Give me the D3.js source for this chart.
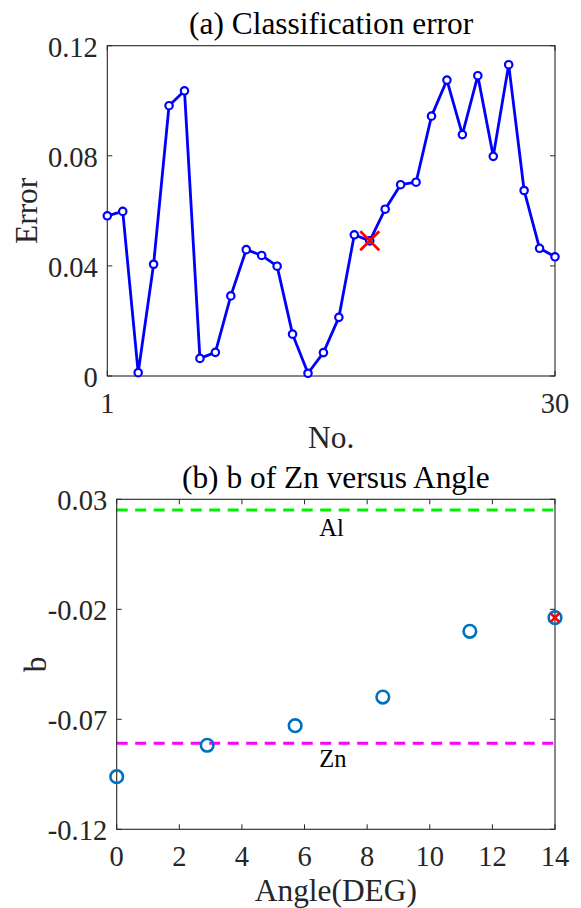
<!DOCTYPE html>
<html><head><meta charset="utf-8">
<script src="https://cdn.jsdelivr.net/npm/d3@7"></script>
<style>html,body{margin:0;padding:0;background:#fff;} svg{display:block;font-family:"Liberation Serif","Times New Roman",serif;}</style>
</head><body>
<svg id="c" width="581" height="908"></svg>
<script>
// ---- data: (a) classification error ----
const runNo = [1,2,3,4,5,6,7,8,9,10,11,12,13,14,15,16,17,18,19,20,21,22,23,24,25,26,27,28,29,30];
const errorVals = [0.0582,0.0598,0.0012,0.0406,0.0982,0.1036,0.0064,0.0086,0.0291,0.0459,
                   0.0438,0.0399,0.0152,0.0010,0.0085,0.0213,0.0513,0.0491,0.0606,0.0695,
                   0.0704,0.0944,0.1075,0.0877,0.1091,0.0798,0.1131,0.0674,0.0464,0.0433];
const bestRun = 18;
const errYTicks = [0, 0.04, 0.08, 0.12];
const errYTickLabels = ["0", "0.04", "0.08", "0.12"];
const errXTicks = [1, 30];
// ---- data: (b) b of Zn versus angle ----
const angles = [0, 2.89, 5.70, 8.50, 11.28, 14.0];
const bVals = [-0.0961, -0.0818, -0.0729, -0.0599, -0.0300, -0.0238];
const bestAngleIdx = 5;
const refNames = ["Al", "Zn"];
const refVals = [0.0251, -0.0809];
const refLabelPos = [[6.47, 0.0133], [6.47, -0.0915]];
const bYTicks = [0.03, -0.02, -0.07, -0.12];
const bYTickLabels = ["0.03", "-0.02", "-0.07", "-0.12"];
const bXTicks = [0, 2, 4, 6, 8, 10, 12, 14];

const svg = d3.select("#c");
const AX = "#262626", TICK = 28.5, LAB = 31.4, TL = 5;

function frame(g, x, y, xt, xtl, yt, ytl, title, xlabel, ylabel) {
  const [x0, x1] = x.range(), [y0, y1] = y.range(); // y0 bottom, y1 top
  // ticks inward on all four sides
  g.selectAll(".tx").data(xt).enter().append("path")
    .attr("d", d => `M${x(d)},${y0}v${-TL}M${x(d)},${y1}v${TL}`)
    .attr("stroke", AX).attr("stroke-width", 1);
  g.selectAll(".ty").data(yt).enter().append("path")
    .attr("d", d => `M${x0},${y(d)}h${TL}M${x1},${y(d)}h${-TL}`)
    .attr("stroke", AX).attr("stroke-width", 1);
  g.append("rect").attr("x", x0).attr("y", y1).attr("width", x1 - x0).attr("height", y0 - y1)
    .attr("fill", "none").attr("stroke", AX).attr("stroke-width", 1.1);
  g.selectAll(".xl").data(xt).enter().append("text")
    .attr("x", d => x(d)).attr("y", y0 + 37).attr("text-anchor", "middle")
    .attr("font-size", TICK).attr("fill", AX).text((d, i) => xtl[i]);
  g.selectAll(".yl").data(yt).enter().append("text")
    .attr("x", x0 - 9.5).attr("y", d => y(d) + 11).attr("text-anchor", "end")
    .attr("font-size", TICK).attr("fill", AX).text((d, i) => ytl[i]);
  const cx = (x0 + x1) / 2, cy = (y0 + y1) / 2;
  g.append("text").attr("x", cx).attr("y", y1 - 11.5).attr("text-anchor", "middle")
    .attr("font-size", LAB).attr("fill", "#000").text(title);
  g.append("text").attr("x", cx).attr("y", y0 + 72).attr("text-anchor", "middle")
    .attr("font-size", LAB).attr("fill", AX).text(xlabel);
  g.append("text").attr("transform", `translate(${x0 - 70.5},${cy}) rotate(-90)`)
    .attr("text-anchor", "middle").attr("font-size", LAB).attr("fill", AX).text(ylabel);
}

// ---- panel (a) ----
const xa = d3.scaleLinear().domain([1, 30]).range([107.3, 555]);
const ya = d3.scaleLinear().domain([0, 0.12]).range([376, 45.7]);
const ga = svg.append("g");
frame(ga, xa, ya, errXTicks, errXTicks.map(String), errYTicks, errYTickLabels,
      "(a) Classification error", "No.", "Error");
const ptsA = runNo.map((n, i) => [n, errorVals[i]]);
ga.append("path").datum(ptsA)
  .attr("d", d3.line().x(d => xa(d[0])).y(d => ya(d[1])))
  .attr("fill", "none").attr("stroke", "#0000ff").attr("stroke-width", 2.8).attr("stroke-linejoin", "round");
ga.selectAll(".m").data(ptsA).enter().append("circle")
  .attr("cx", d => xa(d[0])).attr("cy", d => ya(d[1])).attr("r", 3.7)
  .attr("fill", "#fff").attr("stroke", "#0000ff").attr("stroke-width", 2.2);
{
  const bx = xa(bestRun), by = ya(errorVals[bestRun - 1]), s = 9.5;
  ga.append("path").attr("d", `M${bx - s},${by - s}L${bx + s},${by + s}M${bx - s},${by + s}L${bx + s},${by - s}`)
    .attr("stroke", "#ff0000").attr("stroke-width", 2.8);
}

// ---- panel (b) ----
const xb = d3.scaleLinear().domain([0, 14]).range([116.7, 555]);
const yb = d3.scaleLinear().domain([-0.12, 0.03]).range([829.3, 499.3]);
const gb = svg.append("g");
const refColors = ["#00ee00", "#ff00ff"];
refVals.forEach((v, i) => {
  gb.append("line").attr("x1", xb(0)).attr("x2", xb(14)).attr("y1", yb(v)).attr("y2", yb(v))
    .attr("stroke", refColors[i]).attr("stroke-width", 3).attr("stroke-dasharray", "11,7.5");
  gb.append("text").attr("x", xb(refLabelPos[i][0])).attr("y", yb(refLabelPos[i][1]))
    .attr("font-size", 24.5).attr("fill", "#000").text(refNames[i]);
});
frame(gb, xb, yb, bXTicks, bXTicks.map(String), bYTicks, bYTickLabels,
      "(b) b of Zn versus Angle", "Angle(DEG)", "b");
gb.selectAll(".p").data(angles).enter().append("circle")
  .attr("cx", d => xb(d)).attr("cy", (d, i) => yb(bVals[i])).attr("r", 6.3)
  .attr("fill", "none").attr("stroke", "#0072bd").attr("stroke-width", 2.6);
{
  const bx = xb(angles[bestAngleIdx]), by = yb(bVals[bestAngleIdx]), s = 4.5;
  gb.append("path").attr("d", `M${bx - s},${by - s}L${bx + s},${by + s}M${bx - s},${by + s}L${bx + s},${by - s}`)
    .attr("stroke", "#ff0000").attr("stroke-width", 2.6);
}
</script>
</body></html>
